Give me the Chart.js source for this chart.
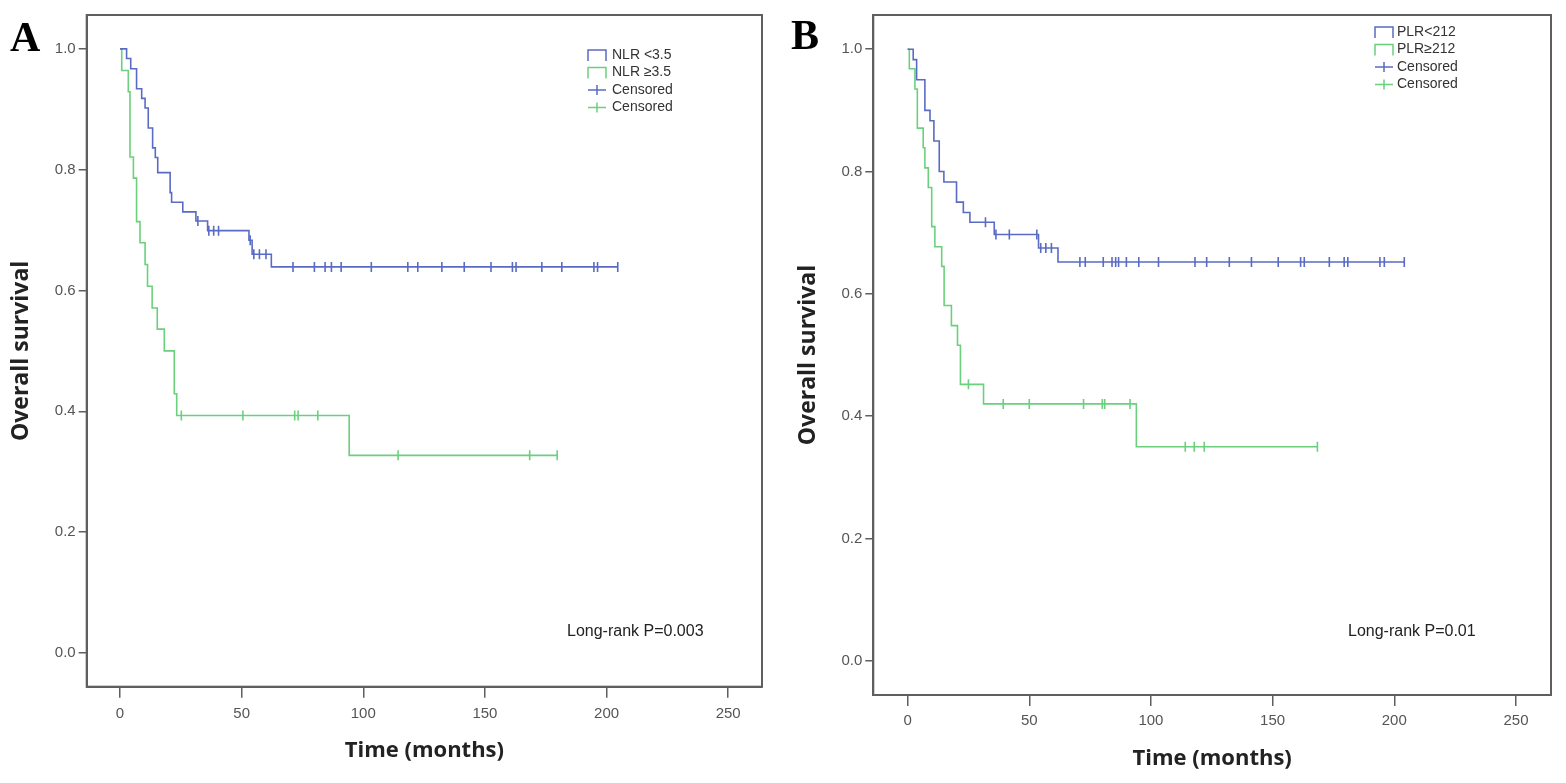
<!DOCTYPE html>
<html>
<head>
<meta charset="utf-8">
<script src="https://cdn.jsdelivr.net/npm/chart.js@4.4.1/dist/chart.umd.min.js"></script>
<style>
  html, body { margin: 0; padding: 0; background: #fff; }
  #wrap { position: relative; width: 1566px; height: 783px; }
  .panel { position: absolute; top: 0; width: 783px; height: 783px; }
</style>
</head>
<body>
<div id="wrap">
  <div class="panel" style="left:0"><canvas id="chartA" width="783" height="783"></canvas></div>
  <div class="panel" style="left:783px"><canvas id="chartB" width="783" height="783"></canvas></div>
</div>
<script>
// Axis ticks
const timeTicks = [0, 50, 100, 150, 200, 250];
const survivalTicks = [0, 0.2, 0.4, 0.6, 0.8, 1.0];

// Panel A - NLR groups (event times in months, survival after each step)
const nlrLowTime = [0, 2.7, 4.4, 6.8, 8.9, 10.3, 11.6, 13.4, 14.5, 15.5, 20.6, 21.2, 25.8, 31.2, 36.0, 53.0, 54.3, 62.2];
const nlrLowSurv = [1.0, 0.984, 0.967, 0.934, 0.918, 0.902, 0.869, 0.836, 0.820, 0.795, 0.762, 0.746, 0.730, 0.715, 0.699, 0.683, 0.660, 0.639];
const nlrLowCensored = [32.0, 36.5, 38.5, 40.5, 53.5, 55.0, 57.3, 60.0, 71.1, 79.9, 84.3, 86.9, 90.9, 103.3, 118.3, 122.4, 132.3, 141.5, 152.5, 161.3, 162.8, 173.4, 181.6, 194.8, 196.3, 204.6];

const nlrHighTime = [0, 0.7, 3.4, 4.1, 5.5, 6.8, 8.2, 10.3, 11.3, 13.2, 15.3, 18.2, 22.3, 23.3, 94.2];
const nlrHighSurv = [1.0, 0.964, 0.929, 0.821, 0.786, 0.714, 0.679, 0.643, 0.607, 0.571, 0.536, 0.500, 0.429, 0.393, 0.327];
const nlrHighCensored = [25.2, 50.5, 71.8, 73.2, 81.3, 114.3, 168.4, 179.7];

const nlrLegend = ['NLR <3.5', 'NLR \u22653.5', 'Censored', 'Censored'];
const nlrPValue = 'Long-rank P=0.003';

// Panel B - PLR groups
const plrLowTime = [0, 2.3, 3.7, 7.1, 9.2, 10.8, 13.0, 14.9, 20.1, 22.9, 25.6, 35.6, 53.8, 61.8];
const plrLowSurv = [1.0, 0.983, 0.950, 0.900, 0.883, 0.850, 0.800, 0.783, 0.750, 0.733, 0.717, 0.697, 0.675, 0.652];
const plrLowCensored = [32.0, 36.3, 41.8, 53.1, 54.7, 56.8, 59.1, 70.8, 73.0, 80.4, 84.0, 85.5, 86.7, 89.9, 95.0, 103.1, 118.1, 122.9, 132.2, 141.3, 152.3, 161.5, 163.0, 173.3, 179.4, 180.9, 194.1, 195.9, 204.1];

const plrHighTime = [0, 0.7, 3.0, 4.0, 6.4, 7.1, 8.5, 9.9, 11.2, 14.0, 15.0, 18.0, 20.5, 21.7, 31.2, 94.0];
const plrHighSurv = [1.0, 0.968, 0.935, 0.871, 0.839, 0.806, 0.774, 0.710, 0.677, 0.645, 0.581, 0.548, 0.516, 0.452, 0.420, 0.350];
const plrHighCensored = [25.0, 39.3, 50.0, 72.3, 80.0, 81.0, 91.4, 114.1, 117.8, 121.9, 168.4];

const plrLegend = ['PLR<212', 'PLR\u2265212', 'Censored', 'Censored'];
const plrPValue = 'Long-rank P=0.01';

const blue = '#5a6bc4';
const green = '#6bd07e';
const axisGray = '#5f5f5f';

// KM step value at time t (used to place censor marks on the curve)
function survivalAt(times, surv, t) {
  let s = surv[0];
  for (let i = 0; i < times.length; i++) {
    if (times[i] <= t) s = surv[i];
  }
  return s;
}

function stepData(times, surv, censored) {
  const pts = times.map((t, i) => ({ x: t, y: surv[i] }));
  const end = Math.max(...censored);
  if (end > times[times.length - 1]) pts.push({ x: end, y: surv[surv.length - 1] });
  return pts;
}

function censorData(times, surv, censored) {
  return censored.map(t => ({ x: t, y: survivalAt(times, surv, t) }));
}

// Frame, panel letter, legend and p-value text
const kmDecor = {
  id: 'kmDecor',
  afterDraw(chart, args, opts) {
    const { ctx, chartArea: area } = chart;
    ctx.save();
    ctx.strokeStyle = axisGray;
    ctx.lineWidth = 2;
    ctx.strokeRect(area.left, area.top, area.right - area.left, area.bottom - area.top);

    ctx.fillStyle = '#000';
    ctx.font = 'bold 42px "Liberation Serif"';
    ctx.textBaseline = 'alphabetic';
    ctx.fillText(opts.letter, opts.letterX, opts.letterY);

    ctx.font = '14px "Liberation Sans"';
    ctx.textBaseline = 'middle';
    opts.labels.forEach((text, i) => {
      const x = opts.legendX;
      const y = opts.legendY + i * opts.legendGap;
      const color = i % 2 === 0 ? blue : green;
      ctx.strokeStyle = color;
      ctx.lineWidth = 1.5;
      ctx.beginPath();
      if (i >= 2) {
        ctx.moveTo(x, y);
        ctx.lineTo(x + 18, y);
        ctx.moveTo(x + 9, y - 5);
        ctx.lineTo(x + 9, y + 5);
      } else {
        ctx.moveTo(x, y + 6);
        ctx.lineTo(x, y - 5);
        ctx.lineTo(x + 18, y - 5);
        ctx.lineTo(x + 18, y + 6);
      }
      ctx.stroke();
      ctx.fillStyle = '#333';
      ctx.fillText(text, x + opts.textOffset, y);
    });

    ctx.font = '16px "Liberation Sans"';
    ctx.fillStyle = '#222';
    ctx.fillText(opts.pText, opts.pX, opts.pY);
    ctx.restore();
  }
};

function buildPanel(id, cfg) {
  const lineStyle = { stepped: 'before', pointRadius: 0, borderWidth: 1.6, fill: false, tension: 0 };
  const censorStyle = { type: 'scatter', showLine: false, pointStyle: 'line', rotation: 90, pointRadius: 5, borderWidth: 1.6 };

  return new Chart(document.getElementById(id), {
    type: 'line',
    data: {
      datasets: [
        { ...lineStyle, label: cfg.labels[0], data: stepData(cfg.low.time, cfg.low.surv, cfg.low.cens), borderColor: blue },
        { ...lineStyle, label: cfg.labels[1], data: stepData(cfg.high.time, cfg.high.surv, cfg.high.cens), borderColor: green },
        { ...censorStyle, label: cfg.labels[2], data: censorData(cfg.low.time, cfg.low.surv, cfg.low.cens), borderColor: blue, backgroundColor: blue },
        { ...censorStyle, label: cfg.labels[3], data: censorData(cfg.high.time, cfg.high.surv, cfg.high.cens), borderColor: green, backgroundColor: green }
      ]
    },
    options: {
      responsive: false,
      animation: false,
      layout: { padding: { top: 15, right: cfg.padRight, left: 0, bottom: 0 } },
      plugins: {
        legend: { display: false },
        tooltip: { enabled: false },
        kmDecor: cfg.decor
      },
      scales: {
        x: {
          type: 'linear',
          min: cfg.xMin,
          max: cfg.xMax,
          afterBuildTicks: (s) => { s.ticks = timeTicks.map(v => ({ value: v })); },
          afterFit: (s) => { s.height = cfg.xAxisHeight; },
          grid: { drawOnChartArea: false, tickLength: 11, color: axisGray, lineWidth: 1.5 },
          border: { color: axisGray, width: 2 },
          ticks: { color: '#555', font: { size: 15, family: '"Liberation Sans"' }, padding: cfg.xTickPad },
          title: {
            display: true,
            text: 'Time (months)',
            color: '#222',
            font: { size: 22, weight: 'bold', family: '"Open Sans"' },
            padding: { top: 0, bottom: cfg.xTitlePad }
          }
        },
        y: {
          min: -0.056,
          max: 1.056,
          afterBuildTicks: (s) => { s.ticks = survivalTicks.map(v => ({ value: v })); },
          afterFit: (s) => { s.width = cfg.yAxisWidth; },
          grid: { drawOnChartArea: false, tickLength: 8, color: axisGray, lineWidth: 1.5 },
          border: { color: axisGray, width: 2 },
          ticks: { color: '#555', font: { size: 15, family: '"Liberation Sans"' }, padding: 3, callback: (v) => v.toFixed(1) },
          title: {
            display: true,
            text: 'Overall survival',
            color: '#222',
            font: { size: 23, weight: 'bold', family: '"Open Sans"' },
            padding: { top: cfg.yTitlePad, bottom: 0 }
          }
        }
      }
    },
    plugins: [kmDecor]
  });
}

buildPanel('chartA', {
  labels: nlrLegend,
  low: { time: nlrLowTime, surv: nlrLowSurv, cens: nlrLowCensored },
  high: { time: nlrHighTime, surv: nlrHighSurv, cens: nlrHighCensored },
  xMin: -13.7, xMax: 263.9,
  padRight: 21, yAxisWidth: 86.7, xAxisHeight: 96.3,
  xTickPad: 7, xTitlePad: 19, yTitlePad: 8,
  decor: {
    letter: 'A', letterX: 10, letterY: 51,
    labels: nlrLegend, legendX: 588, legendY: 55, legendGap: 17.5, textOffset: 24,
    pText: nlrPValue, pX: 567, pY: 632
  }
});

buildPanel('chartB', {
  labels: plrLegend,
  low: { time: plrLowTime, surv: plrLowSurv, cens: plrLowCensored },
  high: { time: plrHighTime, surv: plrHighSurv, cens: plrHighCensored },
  xMin: -14.1, xMax: 264.4,
  padRight: 15, yAxisWidth: 90.3, xAxisHeight: 88,
  xTickPad: 6, xTitlePad: 11, yTitlePad: 12,
  decor: {
    letter: 'B', letterX: 8, letterY: 49,
    labels: plrLegend, legendX: 592, legendY: 32, legendGap: 17.5, textOffset: 22,
    pText: plrPValue, pX: 565, pY: 632
  }
});
</script>
</body>
</html>
